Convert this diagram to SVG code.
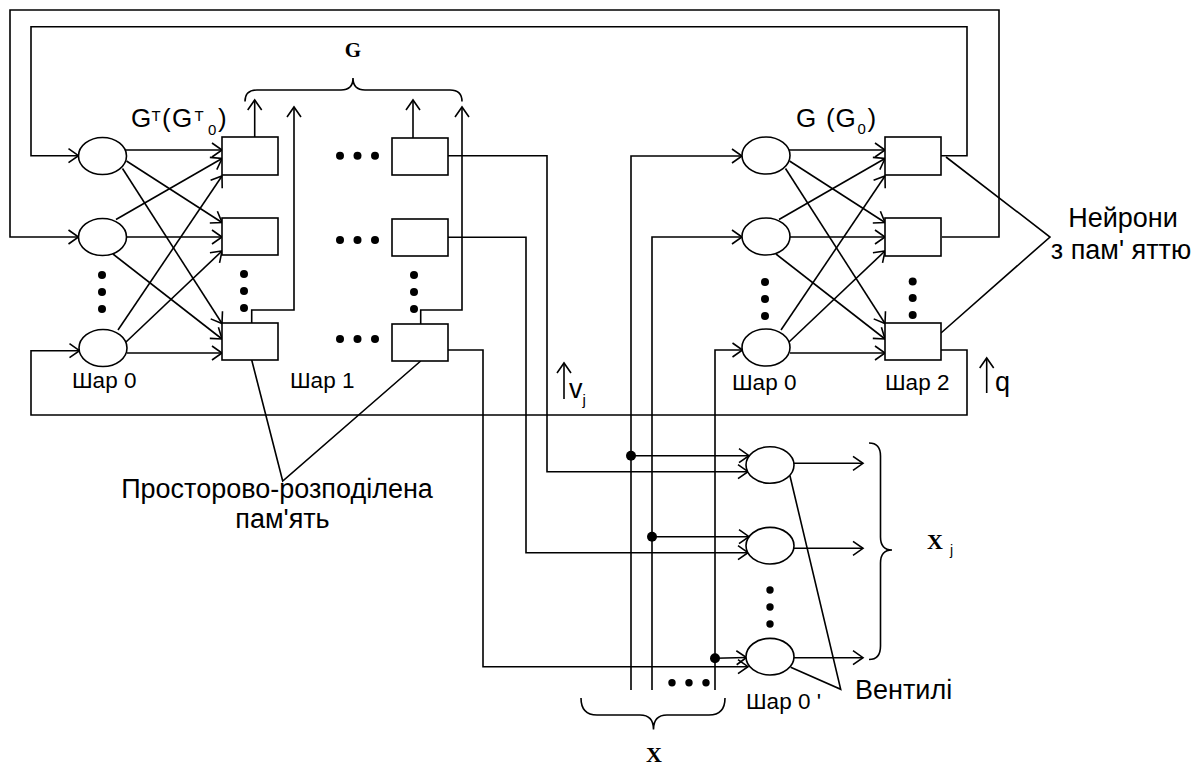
<svg xmlns="http://www.w3.org/2000/svg" width="1203" height="767" viewBox="0 0 1203 767">
<style>
.ln{fill:none;stroke:#000;stroke-width:1.6}
.ar{fill:none;stroke:#000;stroke-width:1.6;marker-end:url(#a)}
.nd{fill:#fff;stroke:#000;stroke-width:1.6}
.dt{fill:#000}
.t{font-family:"Liberation Sans",Arial,sans-serif;fill:#000}
.b{font-family:"Liberation Serif","Times New Roman",serif;font-weight:bold;fill:#000}
</style>
<defs>
<marker id="a" markerUnits="userSpaceOnUse" markerWidth="24" markerHeight="24" viewBox="-12 -12 24 24" refX="0" refY="0" orient="auto" overflow="visible">
<path d="M-10,-7 L0,0 L-10,7" fill="none" stroke="#000" stroke-width="1.6"/>
</marker>
</defs>

<g id="connectors">
  <g id="left-net-links">
    <path class="ar" d="M126,150 L222,150"/>
    <path class="ar" d="M126.5,161 L222,222.5"/>
    <path class="ar" d="M122.5,168.5 L222,323.5"/>
    <path class="ar" d="M116,219.5 L222,158.5"/>
    <path class="ar" d="M127,237 L222,237"/>
    <path class="ar" d="M113,254 L222,339"/>
    <path class="ar" d="M118,330 L222,176"/>
    <path class="ar" d="M126,342 L222,251"/>
    <path class="ar" d="M127,353 L222,353"/>
  </g>
  <g id="right-net-links" transform="translate(663,0)">
    <path class="ar" d="M126,150 L222,150"/>
    <path class="ar" d="M126.5,161 L222,222.5"/>
    <path class="ar" d="M122.5,168.5 L222,323.5"/>
    <path class="ar" d="M116,219.5 L222,158.5"/>
    <path class="ar" d="M127,237 L222,237"/>
    <path class="ar" d="M113,254 L222,339"/>
    <path class="ar" d="M118,330 L222,176"/>
    <path class="ar" d="M126,342 L222,251"/>
    <path class="ar" d="M127,353 L222,353"/>
  </g>
  <path class="ar" d="M254.7,137 V100"/>
  <path class="ar" d="M251.7,323 V310 H294 V107"/>
  <path class="ar" d="M413,138 V100"/>
  <path class="ar" d="M420.7,324 V310 H462 V107"/>
  <path class="ar" d="M942,237 H999 V10 H10 V237 H78.5"/>
  <path class="ar" d="M941,155.7 H967 V26.7 H31 V155.7 H78.5"/>
  <path class="ar" d="M941,350 H967 V415 H31 V350.7 H79.5"/>
  <path class="ar" d="M448,155.7 H547 V471.7 H748"/>
  <path class="ar" d="M448,237.3 H526 V552.7 H748"/>
  <path class="ar" d="M448,350 H483 V666.7 H748"/>
  <path class="ar" d="M631,690 V156 H742"/>
  <path class="ar" d="M652,690 V237 H742"/>
  <path class="ar" d="M715,690 V350 H742.5"/>
  <path class="ar" d="M631,455.7 H749"/>
  <path class="ar" d="M652,536.7 H749"/>
  <path class="ar" d="M715,658.3 L746.5,657.5"/>
  <circle class="dt" cx="631" cy="455.7" r="5"/>
  <circle class="dt" cx="652" cy="536.7" r="5"/>
  <circle class="dt" cx="715" cy="658.3" r="5"/>
  <path class="ar" d="M794,463.3 H863"/>
  <path class="ar" d="M794,548.3 H863"/>
  <path class="ar" d="M794,657.7 H863"/>
  <path class="ln" d="M251.7,360 L282.7,481 L420.7,361"/>
  <path class="ln" d="M946,157 L1050,237 L941,333"/>
  <path class="ln" d="M790,476 L840.7,689.3 L790.7,667.3"/>
  <path class="ar" d="M564,399 V363"/>
  <path class="ar" d="M986.7,393 V358"/>
  <path class="ln" d="M245,101.5 Q245,90 257,90 L341,90 Q353,90 353,78 Q353,90 365,90 L450,90 Q462,90 462,101.5"/>
  <path class="ln" d="M869,443 Q880.5,443 880.5,456 L880.5,537 Q880.5,550 892,550 Q880.5,550 880.5,563 L880.5,646 Q880.5,659.5 869,659.5"/>
  <path class="ln" d="M581,698 Q581,715 597,715 L640,715 Q653.5,715 653.5,729.5 Q653.5,715 667,715 L709,715 Q725,715 725,698"/>
</g>

<g id="layer0-left">
  <ellipse class="nd" cx="102.5" cy="156" rx="24" ry="18.5"/>
  <ellipse class="nd" cx="102.5" cy="237" rx="24" ry="18.5"/>
  <ellipse class="nd" cx="103" cy="348" rx="24" ry="18.5"/>
</g>
<g id="layer1-col1">
  <rect class="nd" x="222" y="137" width="56" height="38"/>
  <rect class="nd" x="222" y="218" width="56" height="37"/>
  <rect class="nd" x="222" y="323" width="56" height="37"/>
</g>
<g id="layer1-col2">
  <rect class="nd" x="392" y="138" width="56" height="37"/>
  <rect class="nd" x="392" y="219" width="56" height="37"/>
  <rect class="nd" x="392" y="324" width="56" height="37"/>
</g>
<g id="layer0-right">
  <ellipse class="nd" cx="766" cy="155.5" rx="24" ry="18.5"/>
  <ellipse class="nd" cx="766" cy="236.5" rx="24" ry="18.5"/>
  <ellipse class="nd" cx="766" cy="347.5" rx="24" ry="18.5"/>
</g>
<g id="layer2-right">
  <rect class="nd" x="885" y="137" width="56" height="38"/>
  <rect class="nd" x="885" y="218" width="56" height="38"/>
  <rect class="nd" x="885" y="323" width="56" height="37"/>
</g>
<g id="gates">
  <ellipse class="nd" cx="770" cy="465" rx="24" ry="18.3"/>
  <ellipse class="nd" cx="770" cy="545.7" rx="24" ry="18.3"/>
  <ellipse class="nd" cx="770" cy="656.7" rx="24" ry="18.3"/>
</g>

<g id="ellipsis-dots" class="dt">
  <circle cx="102" cy="275" r="4"/><circle cx="102" cy="292" r="4"/><circle cx="102" cy="309" r="4"/>
  <circle cx="244" cy="274" r="4"/><circle cx="244" cy="291" r="4"/><circle cx="244" cy="308" r="4"/>
  <circle cx="414" cy="275" r="4"/><circle cx="414" cy="292" r="4"/><circle cx="414" cy="309" r="4"/>
  <circle cx="340" cy="155.7" r="4"/><circle cx="357.5" cy="155.7" r="4"/><circle cx="375" cy="155.7" r="4"/>
  <circle cx="340" cy="240" r="4"/><circle cx="357.5" cy="240" r="4"/><circle cx="375" cy="240" r="4"/>
  <circle cx="340" cy="339" r="4"/><circle cx="357.5" cy="339" r="4"/><circle cx="375" cy="339" r="4"/>
  <circle cx="765" cy="282" r="4"/><circle cx="765" cy="299" r="4"/><circle cx="765" cy="316" r="4"/>
  <circle cx="912.7" cy="281.5" r="4"/><circle cx="912.7" cy="298" r="4"/><circle cx="912.7" cy="315" r="4"/>
  <circle cx="770" cy="590" r="3.7"/><circle cx="770" cy="607" r="3.7"/><circle cx="770" cy="624" r="3.7"/>
  <circle cx="672" cy="682.7" r="3.7"/><circle cx="689" cy="682.7" r="3.7"/><circle cx="706" cy="682.7" r="3.7"/>
</g>

<g id="labels">
  <text class="b" x="353" y="57" font-size="21" text-anchor="middle">G</text>
  <text class="t" font-size="26" y="127"><tspan x="131">G</tspan><tspan x="151.5" y="121" font-size="15">T</tspan><tspan x="162" y="127">(</tspan><tspan x="172" y="127">G</tspan><tspan x="194.5" y="121" font-size="15">T</tspan><tspan x="208" y="135" font-size="15">0</tspan><tspan x="218" y="127">)</tspan></text>
  <text class="t" font-size="26" y="127"><tspan x="796">G</tspan><tspan x="826">(</tspan><tspan x="835.5">G</tspan><tspan x="857.5" y="134" font-size="15">0</tspan><tspan x="867.5" y="127">)</tspan></text>
  <text class="t" font-size="22.5" x="72" y="388">Шар 0</text>
  <text class="t" font-size="22.5" x="290" y="388">Шар 1</text>
  <text class="t" font-size="22.5" x="732" y="390">Шар 0</text>
  <text class="t" font-size="22.5" x="885" y="390">Шар 2</text>
  <text class="t" font-size="22.5" x="746" y="709">Шар 0 '</text>
  <text class="t" font-size="27" x="569" y="398">v<tspan font-size="15" dy="7">j</tspan></text>
  <text class="t" font-size="27" x="995" y="391">q</text>
  <text class="t" font-size="27" x="1123" y="227" text-anchor="middle">Нейрони</text>
  <text class="t" font-size="27" x="1121" y="259" text-anchor="middle">з пам' яттю</text>
  <text class="t" font-size="27" x="277" y="498" text-anchor="middle">Просторово-розподілена</text>
  <text class="t" font-size="27" x="282.5" y="528" text-anchor="middle">пам'ять</text>
  <text class="t" font-size="27" x="855" y="699">Вентилі</text>
  <text class="b" font-size="22" x="927" y="549">X</text>
  <text class="t" font-size="14" x="950" y="555">j</text>
  <text class="b" font-size="22" x="654" y="762" text-anchor="middle">X</text>
</g>
</svg>
